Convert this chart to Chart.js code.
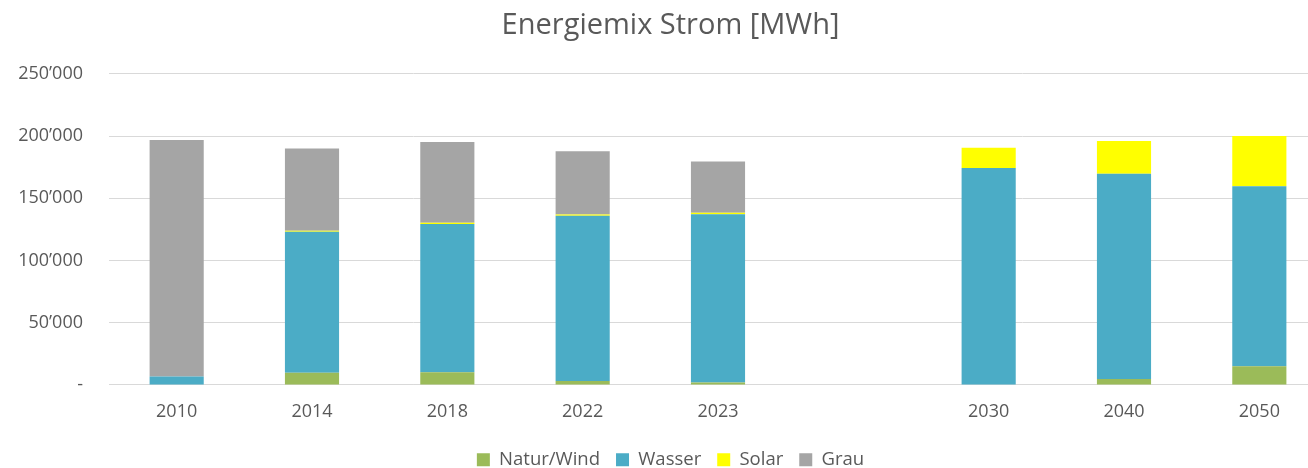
<!DOCTYPE html>
<html>
<head>
<meta charset="utf-8">
<script src="https://cdn.jsdelivr.net/npm/chart.js@4"></script>
<style>
  html, body { margin: 0; padding: 0; background: #fff; overflow: hidden; }
  #wrap { width: 1344px; height: 468px; }
</style>
</head>
<body>
<div id="wrap"><canvas id="myChart" width="1344" height="468"></canvas></div>
<script>
// categories (empty slot between 2023 and 2030 as in the original)
var years = ['2010', '2014', '2018', '2022', '2023', '', '2030', '2040', '2050'];

// MWh per source
var naturWind = [0, 9700, 10200, 3200, 2000, null, 0, 4800, 15000];
var wasser = [6700, 113400, 119000, 132800, 135100, null, 174400, 164800, 144700];
var solar = [0, 700, 1100, 1000, 1200, null, 16200, 26400, 40300];
var grau = [190100, 66200, 64900, 50700, 41300, null, 0, 0, 0];

var yTicks = [0, 50000, 100000, 150000, 200000, 250000];

function fmt(v) {
	if (v === 0) return '-';
	return String(v).replace(/\B(?=(\d{3})+(?!\d))/g, '\u2019');
}

var ctx = document.getElementById('myChart');
var myChart = new Chart(ctx, {
	type: 'bar',
	data: {
		labels: years,
		datasets: [
			{ label: 'Natur/Wind', data: naturWind, backgroundColor: '#9BBB59' },
			{ label: 'Wasser', data: wasser, backgroundColor: '#4BACC6' },
			{ label: 'Solar', data: solar, backgroundColor: '#FFFF00' },
			{ label: 'Grau', data: grau, backgroundColor: '#A5A5A5' }
		]
	},
	options: {
		responsive: false,
		animation: false,
		layout: { padding: { left: 14, right: 17, top: 8, bottom: -11 } },
		datasets: {
			bar: { categoryPercentage: 0.8, barPercentage: 0.5, borderWidth: 0 }
		},
		plugins: {
			title: {
				display: true,
				text: 'Energiemix Strom [MWh]',
				color: '#595959',
				font: { family: 'Open Sans', size: 29, weight: 'normal' },
				padding: { top: 0, bottom: 31 }
			},
			legend: {
				position: 'bottom',
				labels: {
					color: '#595959',
					font: { family: 'Open Sans', size: 18.5 },
					boxWidth: 13,
					boxHeight: 13,
					padding: 16
				}
			},
			tooltip: { enabled: false }
		},
		scales: {
			x: {
				stacked: true,
				grid: { display: false },
				border: { color: '#D9D9D9' },
				afterFit: function(axis) { axis.height += 4; },
				ticks: { color: '#595959', font: { family: 'Open Sans', size: 18 }, padding: 8 }
			},
			y: {
				stacked: true,
				min: 0,
				max: 250000,
				afterBuildTicks: function(axis) {
					axis.ticks = yTicks.map(function(v) { return { value: v }; });
				},
				afterFit: function(axis) { axis.width = 95; },
				grid: { color: '#D9D9D9', drawTicks: false },
				border: { display: false },
				ticks: {
					color: '#595959',
					font: { family: 'Open Sans', size: 18 },
					padding: 26,
					callback: function(v) { return fmt(v); }
				}
			}
		}
	}
});
</script>
</body>
</html>
